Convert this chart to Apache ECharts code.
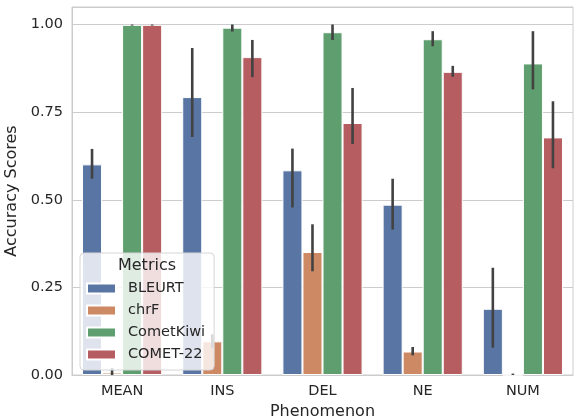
<!DOCTYPE html>
<html>
<head>
<meta charset="utf-8">
<script src="https://cdn.jsdelivr.net/npm/echarts@6/dist/echarts.min.js"></script>
<style>html,body{margin:0;padding:0;background:#fff;}#c{width:574px;height:419px;}</style>
</head>
<body>
<div id="c"></div>
<script>
const categories = ['MEAN', 'INS', 'DEL', 'NE', 'NUM'];
const metrics = ['BLEURT', 'chrF', 'CometKiwi', 'COMET-22'];
const yTicks = [0, 0.25, 0.5, 0.75, 1.0];

const bleurt = [0.601, 0.793, 0.584, 0.486, 0.189];
const bleurtLow = [0.560, 0.679, 0.478, 0.415, 0.078];
const bleurtHigh = [0.645, 0.933, 0.646, 0.560, 0.306];

const chrf = [0.007, 0.096, 0.351, 0.067, 0.0];
const chrfLow = [0.0, 0.076, 0.296, 0.056, 0.0];
const chrfHigh = [0.020, 0.116, 0.430, 0.080, 0.004];

const kiwi = [0.999, 0.991, 0.978, 0.958, 0.889];
const kiwiLow = [0.997, 0.980, 0.956, 0.938, 0.815];
const kiwiHigh = [1.0, 1.0, 1.0, 0.981, 0.981];

const comet22 = [0.999, 0.907, 0.719, 0.865, 0.678];
const comet22Low = [0.997, 0.850, 0.659, 0.851, 0.590];
const comet22High = [1.0, 0.956, 0.819, 0.882, 0.781];

const colors = ['#5975a4', '#cc8963', '#5f9e6e', '#b55d60'];
const means = [bleurt, chrf, kiwi, comet22];
const lows = [bleurtLow, chrfLow, kiwiLow, comet22Low];
const highs = [bleurtHigh, chrfHigh, kiwiHigh, comet22High];

const errData = [];
for (let s = 0; s < metrics.length; s++) {
  for (let c = 0; c < categories.length; c++) {
    errData.push([c, lows[s][c], highs[s][c], s]);
  }
}

const textColor = '#262626';
const font = 'DejaVu Sans';

const chart = echarts.init(document.getElementById('c'), null, {renderer: 'canvas'});
const barSeries = metrics.map((m, i) => ({
  name: m,
  type: 'bar',
  data: means[i],
  barWidth: '20%',
  barGap: '0%',
  itemStyle: {color: colors[i], borderColor: '#ffffff', borderWidth: 1},
  z: 2
}));

chart.setOption({
  animation: false,
  backgroundColor: '#ffffff',
  grid: {left: 72, right: 1, top: 7, bottom: 44, show: true, borderColor: '#cccccc', borderWidth: 1, containLabel: false, outerBoundsMode: 'none'},
  xAxis: {
    type: 'category',
    data: categories,
    name: 'Phenomenon',
    nameLocation: 'middle',
    nameGap: 26,
    nameTextStyle: {fontFamily: font, fontSize: 16, color: textColor},
    axisLine: {show: true, lineStyle: {color: '#cccccc', width: 1}},
    axisTick: {show: false},
    axisLabel: {fontFamily: font, fontSize: 14.5, color: textColor, margin: 9},
    splitLine: {show: false}
  },
  yAxis: {
    type: 'value',
    min: 0,
    max: 1.05,
    interval: 0.25,
    name: 'Accuracy Scores',
    nameLocation: 'middle',
    nameGap: 40,
    nameTextStyle: {fontFamily: font, fontSize: 16, color: textColor},
    axisLine: {show: true, lineStyle: {color: '#cccccc', width: 1}},
    axisTick: {show: false},
    axisLabel: {
      fontFamily: font, fontSize: 14.5, color: textColor, margin: 9,
      showMaxLabel: false,
      formatter: v => yTicks.some(t => Math.abs(t - v) < 1e-9) ? v.toFixed(2) : ''
    },
    splitLine: {show: true, lineStyle: {color: '#cccccc', width: 1}}
  },
  legend: {
    data: metrics,
    orient: 'vertical',
    left: 80,
    top: 253,
    padding: [28, 9, 8, 6],
    itemWidth: 29,
    itemHeight: 10,
    itemGap: 7,
    icon: 'rect',
    backgroundColor: 'rgba(255,255,255,0.8)',
    borderColor: '#d6d6d6',
    borderWidth: 1,
    borderRadius: 4,
    textStyle: {fontFamily: font, fontSize: 14.5, color: textColor, lineHeight: 14, padding: [0, 0, 0, 7]},
    z: 10
  },
  graphic: [{
    type: 'text',
    x: 147,
    y: 266,
    z: 100,
    style: {text: 'Metrics', textAlign: 'center', textVerticalAlign: 'middle', font: '16px "DejaVu Sans"', fill: textColor}
  }],
  series: barSeries.concat([{
    name: 'ci',
    type: 'custom',
    data: errData,
    encode: {x: 0, y: [1, 2]},
    z: 3,
    renderItem: function (params, api) {
      const c = api.value(0), lo = api.value(1), hi = api.value(2), s = api.value(3);
      const bw = api.size([1, 0])[0];
      const x = api.coord([c, 0])[0] + (s - 1.5) * bw * 0.2;
      const y1 = api.coord([c, lo])[1];
      const y2 = api.coord([c, hi])[1];
      return {
        type: 'line',
        shape: {x1: x, y1: y1, x2: x, y2: y2},
        style: {stroke: '#424242', lineWidth: 2.6}
      };
    }
  }])
});
</script>
</body>
</html>
